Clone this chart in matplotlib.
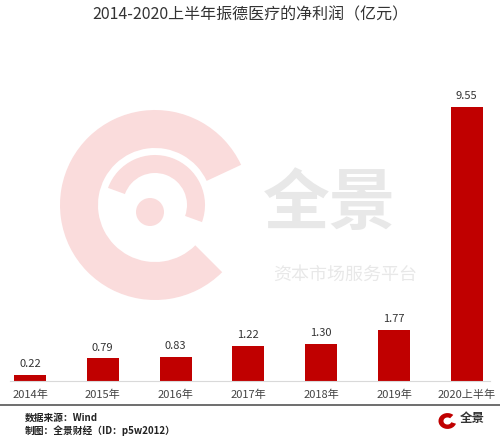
import matplotlib.pyplot as plt
import numpy as np
from matplotlib.patches import Wedge, Circle

plt.rcParams["font.family"] = ["Noto Sans CJK SC", "DejaVu Sans"]

TITLE = "2014-2020上半年振德医疗的净利润（亿元）"
categories = ["2014年", "2015年", "2016年", "2017年", "2018年", "2019年", "2020上半年"]
profit = [0.22, 0.79, 0.83, 1.22, 1.30, 1.77, 9.55]

RED = "#C00000"
PINK = "#FADCDC"

fig = plt.figure(figsize=(5, 4.4), dpi=100)

# 水印（背景）
wm = fig.add_axes([0, 0, 1, 1], zorder=0)
wm.set_xlim(0, 500)
wm.set_ylim(440, 0)
wm.axis("off")
wm.add_patch(Wedge((155, 205), 95, 45, 335, width=38, facecolor=PINK, edgecolor="none"))
wm.add_patch(Wedge((155, 205), 50, 200, 20, width=18, facecolor=PINK, edgecolor="none"))
wm.add_patch(Circle((150, 212), 14, facecolor=PINK, edgecolor="none"))
wm.text(330, 205, "全景", fontsize=48, color="#E8E8E8", ha="center", va="center", fontweight="bold")
wm.text(345, 275, "资本市场服务平台", fontsize=13, color="#E8E8E8", ha="center", va="center")

ax = fig.add_axes([0.02, 0.134, 0.96, 0.686], zorder=1)
ax.patch.set_alpha(0)
x = np.arange(len(categories))
ax.bar(x, profit, width=0.44, color=RED)
for xi, v in zip(x, profit):
    ax.text(xi, v + 0.2, f"{v:.2f}", ha="center", va="bottom", fontsize=8, color="#333333")

ax.set_xlim(-0.275, 6.319)
ax.set_ylim(0, 10.5)
ax.set_xticks(x)
ax.set_xticklabels(categories, fontsize=8, color="#444444")
ax.tick_params(axis="x", length=0, pad=6)
ax.set_yticks([])
for s in ["top", "right", "left"]:
    ax.spines[s].set_visible(False)
ax.spines["bottom"].set_color("#D9D9D9")

fig.text(0.5, 0.965, TITLE, ha="center", va="center", fontsize=11.5, color="#333333")

# 底部分隔线和来源
fig.add_artist(plt.Line2D([0, 1], [1 - 405 / 440, 1 - 405 / 440], color="#555555", lw=1.2))
fig.text(0.05, 1 - 418 / 440, "数据来源：Wind", fontsize=7, fontweight="bold", color="#222222", va="center")
fig.text(0.05, 1 - 431 / 440, "制图：全景财经（ID：p5w2012）", fontsize=7, fontweight="bold", color="#222222", va="center")

# 右下角标志
fig.add_artist(Wedge((0.895, 1 - 421 / 440), 0.018, 50, 340, width=0.01, facecolor=RED, edgecolor="none",
                     transform=fig.transFigure))
fig.text(0.945, 1 - 418 / 440, "全景", fontsize=9, fontweight="bold", color="#333333", ha="center", va="center")

fig.savefig("out.png", dpi=100)
